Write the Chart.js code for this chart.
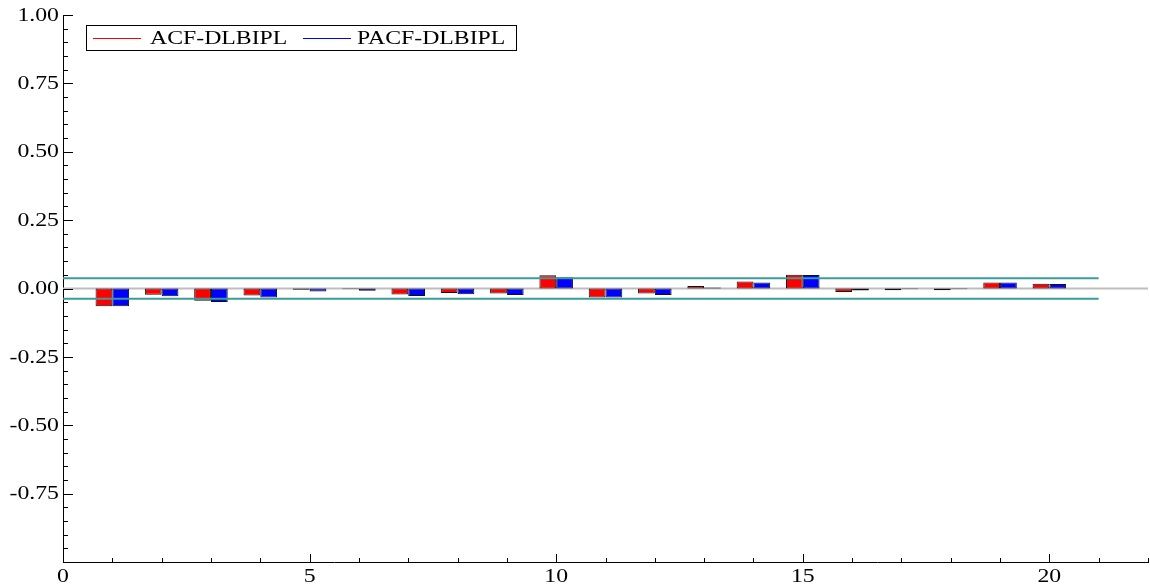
<!DOCTYPE html>
<html>
<head>
<meta charset="utf-8">
<script src="https://cdn.jsdelivr.net/npm/chart.js@4.4.1/dist/chart.umd.min.js"></script>
<style>
  html, body { margin: 0; padding: 0; background: #fff; }
  #wrap { width: 1150px; height: 587px; }
</style>
</head>
<body>
<div id="wrap"><canvas id="acfChart"></canvas></div>
<script>
/*======== DATOS =============*/
const lags = [1, 2, 3, 4, 5, 6, 7, 8, 9, 10, 11, 12, 13, 14, 15, 16, 17, 18, 19, 20]
const acfValues = [-0.065, -0.023, -0.045, -0.026, -0.005, -0.003, -0.022, -0.016, -0.018, 0.048,
                   -0.033, -0.018, 0.009, 0.026, 0.050, -0.013, -0.006, -0.006, 0.022, 0.017]
const pacfValues = [-0.065, -0.028, -0.049, -0.033, -0.011, -0.008, -0.027, -0.021, -0.024, 0.041,
                    -0.033, -0.024, 0.004, 0.022, 0.049, -0.007, -0.003, -0.003, 0.022, 0.016]
const confBand = 0.0373
const bandLags = [0, 21]
const zeroLags = [0, 22]
const yTickValues = [1.00, 0.75, 0.50, 0.25, 0.00, -0.25, -0.50, -0.75]
const xTickValues = [0, 5, 10, 15, 20]
const seriesNames = ['ACF-DLBIPL', 'PACF-DLBIPL']
const seriesColors = ['#ff0000', '#0000ff']

const serif = "'Liberation Serif', 'DejaVu Serif', serif"
const stretch = 1.32   // el texto original sale ensanchado

// texto ensanchado horizontalmente
function wideText(ctx, txt, x, y, align){
	const w = ctx.measureText(txt).width * stretch
	let left = x
	if(align === 'right') left = x - w
	if(align === 'center') left = x - w / 2
	ctx.save()
	ctx.translate(left, y)
	ctx.scale(stretch, 1)
	ctx.textAlign = 'left'
	ctx.fillText(txt, 0, 0)
	ctx.restore()
}

/*======== TICKS INTERIORES, ETIQUETAS Y LEYENDA =============*/
const decorations = {
	id: 'decorations',
	afterDraw(chart){
		const ctx = chart.ctx
		const xs = chart.scales.x, ys = chart.scales.y
		const x0 = xs.left, y0 = ys.bottom
		ctx.save()
		ctx.strokeStyle = '#000'
		ctx.lineWidth = 1
		ctx.beginPath()
		for(let i = -20; i <= 20; i++){
			const py = Math.round(ys.getPixelForValue(i * 0.05)) + 0.5
			const len = (i % 5 === 0) ? 10 : 5
			ctx.moveTo(x0, py); ctx.lineTo(x0 + len, py)
		}
		for(let i = 1; i <= 22; i++){
			const px = Math.round(xs.getPixelForValue(i)) + 0.5
			const len = (i % 5 === 0) ? 8 : 4
			ctx.moveTo(px, y0); ctx.lineTo(px, y0 - len)
		}
		ctx.stroke()

		// etiquetas de los ejes
		ctx.fillStyle = '#000'
		ctx.font = '18px ' + serif
		ctx.textBaseline = 'middle'
		yTickValues.forEach(v => {
			wideText(ctx, v.toFixed(2), x0 - 4, ys.getPixelForValue(v) + 1, 'right')
		})
		xTickValues.forEach(v => {
			wideText(ctx, String(v), xs.getPixelForValue(v), y0 + 15, 'center')
		})

		// leyenda con recuadro
		const bx = 86, by = 25, bw = 430, bh = 25
		ctx.strokeRect(bx + 0.5, by + 0.5, bw, bh)
		const cy = 38.5
		const lineStart = [93, 303]
		const textStart = [150, 357]
		seriesNames.forEach((name, k) => {
			ctx.strokeStyle = seriesColors[k]
			ctx.beginPath()
			ctx.moveTo(lineStart[k], cy)
			ctx.lineTo(lineStart[k] + 48, cy)
			ctx.stroke()
			wideText(ctx, name, textStart[k], cy + 1, 'left')
		})
		ctx.restore()
	}
}

/*======== GRAFICA =============*/
const barStyle = {
	borderColor: '#111',
	borderWidth: 1,
	borderSkipped: false,
	categoryPercentage: 0.68,
	barPercentage: 1.0,
	order: 1
}

const ctxAcf = document.getElementById('acfChart').getContext('2d')
new Chart(ctxAcf, {
	type: 'bar',
	data: {
		datasets: [
			Object.assign({
				label: seriesNames[0],
				data: lags.map((l, i) => ({x: l, y: acfValues[i]})),
				backgroundColor: seriesColors[0]
			}, barStyle),
			Object.assign({
				label: seriesNames[1],
				data: lags.map((l, i) => ({x: l, y: pacfValues[i]})),
				backgroundColor: seriesColors[1]
			}, barStyle),
			{
				type: 'line',
				label: 'zero',
				data: zeroLags.map(l => ({x: l, y: 0})),
				borderColor: '#bdbdbd',
				borderWidth: 2,
				pointRadius: 0,
				order: 3
			},
			{
				type: 'line',
				label: 'upper',
				data: bandLags.map(l => ({x: l, y: confBand})),
				borderColor: '#3a9c9a',
				borderWidth: 2,
				pointRadius: 0,
				order: 0
			},
			{
				type: 'line',
				label: 'lower',
				data: bandLags.map(l => ({x: l, y: -confBand})),
				borderColor: '#3a9c9a',
				borderWidth: 2,
				pointRadius: 0,
				order: 0
			}
		]
	},
	options: {
		responsive: true,
		maintainAspectRatio: false,
		animation: false,
		layout: { padding: { top: 15, right: 2, left: 0, bottom: 0 } },
		plugins: {
			legend: { display: false },
			tooltip: { enabled: false }
		},
		scales: {
			x: {
				type: 'linear',
				min: 0,
				max: 22,
				offset: false,
				grid: { display: false },
				border: { display: true, color: '#000', width: 1 },
				ticks: { display: false, stepSize: 1 },
				afterFit: s => { s.height = 25 }
			},
			y: {
				min: -1,
				max: 1,
				grid: { display: false },
				border: { display: true, color: '#000', width: 1 },
				ticks: { display: false, stepSize: 0.25 },
				afterFit: s => { s.width = 63 }
			}
		}
	},
	plugins: [decorations]
})
</script>
</body>
</html>
